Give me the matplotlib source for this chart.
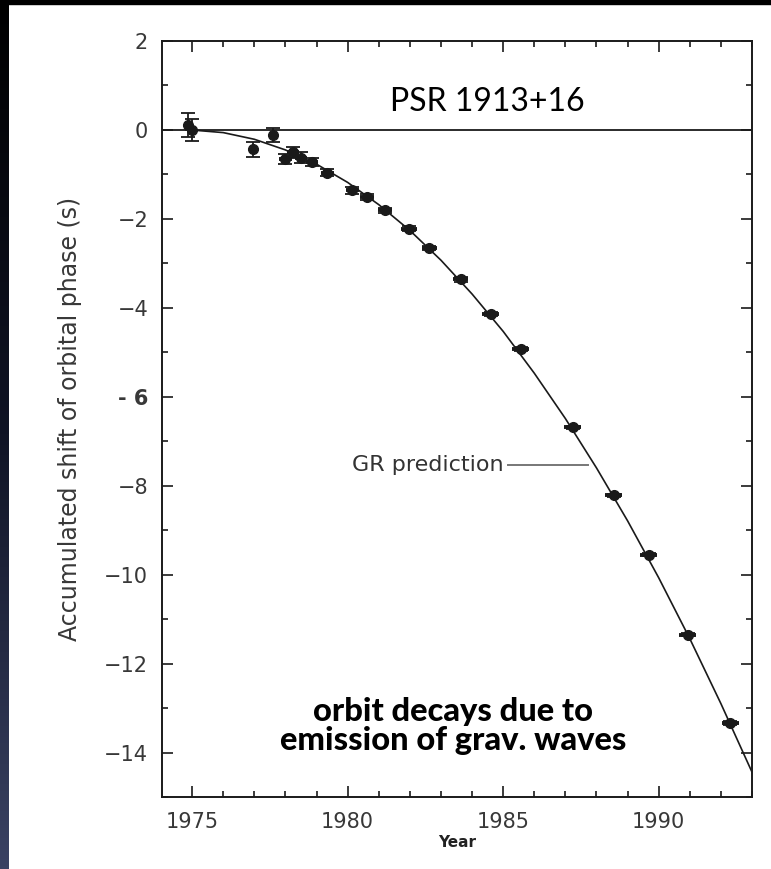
import numpy as np
import matplotlib
matplotlib.use("Agg")
import matplotlib.pyplot as plt
from matplotlib.ticker import MultipleLocator, FixedLocator, FixedFormatter

years = [1974.85, 1975.0, 1976.96, 1977.6, 1978.0, 1978.25, 1978.5, 1978.86,
         1979.35, 1980.15, 1980.63, 1981.2, 1981.98, 1982.63, 1983.63,
         1984.6, 1985.56, 1987.23, 1988.55, 1989.68, 1990.93, 1992.3]
shift = [0.12, 0.0, -0.43, -0.12, -0.65, -0.5, -0.62, -0.72,
         -0.96, -1.36, -1.51, -1.81, -2.22, -2.66, -3.36,
         -4.14, -4.93, -6.69, -8.22, -9.55, -11.35, -13.33]
shift_err = [0.27, 0.25, 0.17, 0.16, 0.12, 0.12, 0.12, 0.1,
             0.08, 0.08, 0.07, 0.06, 0.05, 0.05, 0.05,
             0.04, 0.04, 0.04, 0.04, 0.04, 0.04, 0.04]
year_err = [0.0, 0.0, 0.0, 0.0, 0.2, 0.2, 0.2, 0.2,
            0.2, 0.22, 0.22, 0.22, 0.25, 0.25, 0.25,
            0.27, 0.27, 0.27, 0.27, 0.27, 0.27, 0.27]

# GR prediction curve, sampled from the figure
gr_years = [1974.8, 1975, 1976, 1977, 1978, 1979, 1980, 1981, 1982, 1983,
            1984, 1985, 1986, 1987, 1988, 1989, 1990, 1991, 1992, 1993]
gr_shift = [0.0, -0.002, -0.06, -0.21, -0.45, -0.77, -1.18, -1.68, -2.26, -2.93,
            -3.69, -4.53, -5.47, -6.49, -7.60, -8.79, -10.07, -11.44, -12.90, -14.44]

ytick_vals = [2, 0, -2, -4, -6, -8, -10, -12, -14]
ytick_labels = ["2", "0", "\u22122", "\u22124", "- 6", "\u22128", "\u221210", "\u221212", "\u221214"]

fig = plt.figure(figsize=(7.71, 8.69), dpi=100, facecolor="white")

# dark slide border (top and left)
bg = fig.add_axes([0, 0, 9 / 771, 1])
grad = np.linspace(0, 1, 256).reshape(-1, 1)
bg.imshow(grad, aspect="auto", cmap=matplotlib.colors.LinearSegmentedColormap.from_list(
    "slide", ["#000000", "#101425", "#3a4263"]), extent=[0, 1, 0, 1], origin="upper")
bg.axis("off")
fig.add_artist(plt.Rectangle((0, 1 - 4 / 869), 1, 4 / 869, transform=fig.transFigure,
                             color="black", zorder=10))

ax = fig.add_axes([162 / 771, 72 / 869, 590 / 771, 756 / 869])
ax.set_xlim(1974.03, 1993.0)
ax.set_ylim(-15, 2)

ink = "#1a1a1a"
ax.plot(gr_years, gr_shift, color=ink, lw=1.2, zorder=2)
ax.axhline(0, color=ink, lw=1.3, zorder=2)

ax.errorbar(years, shift, yerr=shift_err, fmt="none", ecolor=ink,
            elinewidth=1.3, capsize=5, capthick=1.3, zorder=3)
ax.errorbar(years, shift, xerr=year_err, fmt="o", color=ink, ms=7,
            ecolor=ink, elinewidth=2.8, capsize=0, zorder=4)

for s in ax.spines.values():
    s.set_linewidth(1.4)
    s.set_color(ink)

ax.xaxis.set_major_locator(MultipleLocator(5))
ax.xaxis.set_minor_locator(MultipleLocator(1))
ax.yaxis.set_major_locator(FixedLocator(ytick_vals))
ax.yaxis.set_major_formatter(FixedFormatter(ytick_labels))
ax.yaxis.set_minor_locator(MultipleLocator(1))
ax.tick_params(which="both", direction="in", top=True, right=True, colors=ink,
               labelcolor="#383838")
ax.tick_params(which="major", length=8, width=1.2, labelsize=15)
ax.tick_params(which="minor", length=4.5, width=1.2)
ax.tick_params(axis="x", pad=11)
ax.tick_params(axis="y", pad=10)
for lab in ax.get_yticklabels():
    if lab.get_text() == "- 6":
        lab.set_fontweight("bold")

ax.set_xlabel("Year", fontsize=11, fontweight="bold", color="#222222", labelpad=2)
ax.set_ylabel("Accumulated shift of orbital phase (s)", fontsize=17,
              color="#383838", labelpad=16)

ax.text(1984.5, 0.62, "PSR 1913+16", fontsize=23, family="Lato",
        ha="center", va="center", color="black")
ax.text(1983.4, -13.4, "orbit decays due to\nemission of grav. waves",
        fontsize=23.5, family="Lato", fontweight="black", ha="center", va="center",
        linespacing=0.98, color="black")

ax.text(1985.0, -7.53, "GR prediction", fontsize=16, ha="right", va="center",
        color="#333333")
ax.plot([1985.17, 1987.72], [-7.53, -7.53], color="#777777", lw=1.4, zorder=2)

fig.savefig("out.png", dpi=100, facecolor="white")
